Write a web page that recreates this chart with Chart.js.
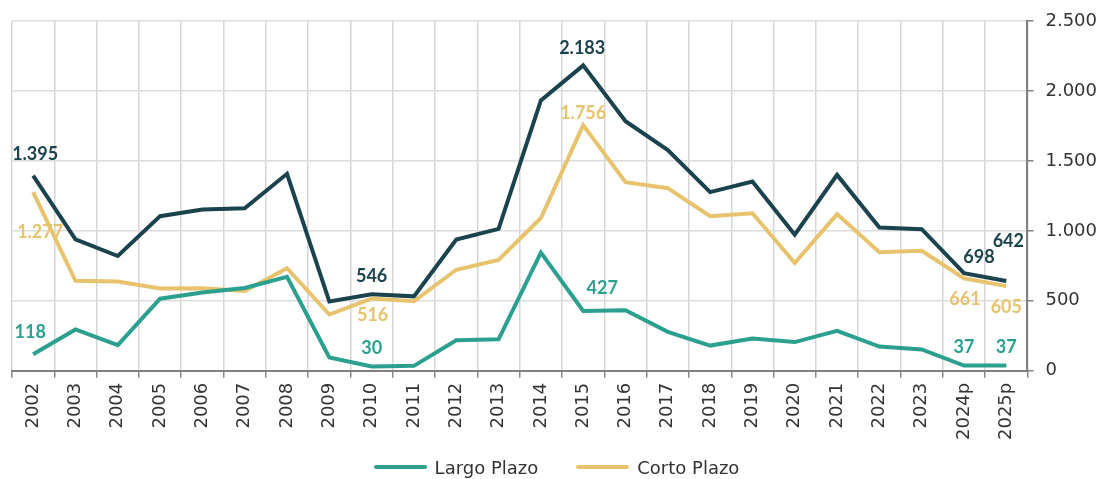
<!DOCTYPE html>
<html>
<head>
<meta charset="utf-8">
<script src="https://cdn.jsdelivr.net/npm/chart.js@4.4.1/dist/chart.umd.min.js"></script>
<style>
html,body{margin:0;padding:0;background:#fff;}
#wrap{width:1113px;height:479px;position:relative;}
#legend{position:absolute;left:0;right:0;top:455px;height:24px;display:flex;justify-content:center;align-items:center;font:18px 'DejaVu Sans';color:#333;}
#legend .item{display:flex;align-items:center;margin:0 19px;}
#legend .sw{width:53px;height:4px;border-radius:2px;margin-right:8px;}
</style>
</head>
<body>
<div id="wrap"><canvas id="chart"></canvas><div id="legend"></div></div>
<script>
// datos
const years=['2002','2003','2004','2005','2006','2007','2008','2009','2010','2011','2012','2013','2014','2015','2016','2017','2018','2019','2020','2021','2022','2023','2024p','2025p'];
const largoPlazo=[118,295,183,515,560,592,672,95,30,35,218,225,845,427,432,278,180,230,205,285,173,152,37,37];
const cortoPlazo=[1277,643,638,588,590,570,733,402,516,497,722,792,1092,1756,1348,1305,1105,1126,770,1120,848,858,661,605];
const total=[1395,940,820,1105,1152,1162,1408,495,546,532,938,1014,1932,2183,1784,1578,1277,1352,972,1400,1024,1012,698,642];
const yTicks=[0,500,1000,1500,2000,2500];

const COLORS={largo:'#2ba08f',corto:'#e7c36d',total:'#1b434d'};
// etiquetas: indice del punto y desplazamiento en px
const LABELS={
  total:[[0,2,-21],[8,0,-18],[13,-1,-17],[22,15,-16],[23,2,-40]],
  corto:[[0,7,40],[8,1,17],[13,0,-12],[22,1,21],[23,0,21]],
  largo:[[0,-3,-22],[8,0,-18],[13,19,-23],[22,0,-18],[23,0,-18]]
};
const fmt=v=>String(v).replace(/\B(?=(\d{3})+(?!\d))/g,'.');

const labelPlugin={
  id:'pointLabels',
  afterDatasetsDraw(chart){
    const ctx=chart.ctx;
    chart.data.datasets.forEach((ds,i)=>{
      const meta=chart.getDatasetMeta(i);
      (LABELS[ds.key]||[]).forEach(([idx,dx,dy])=>{
        const pt=meta.data[idx];
        ctx.save();
        ctx.font='bold 18px Lato';
        ctx.fillStyle=ds.borderColor;
        ctx.textAlign='center';ctx.textBaseline='middle';
        ctx.fillText(fmt(ds.data[idx]),pt.x+dx,pt.y+dy);
        ctx.restore();
      });
    });
  }
};

const mk=(key,label,data)=>({key,label,data,borderColor:COLORS[key],backgroundColor:COLORS[key],borderWidth:4,pointRadius:0,pointHoverRadius:0,tension:0,fill:false});
const datasets=[mk('largo','Largo Plazo',largoPlazo),mk('corto','Corto Plazo',cortoPlazo),mk('total','Total',total)];

// leyenda en html (sin la serie total)
document.getElementById('legend').innerHTML=datasets.filter(d=>d.key!=='total')
  .map(d=>`<span class="item"><span class="sw" style="background:${d.borderColor}"></span>${d.label}</span>`).join('');

new Chart(document.getElementById('chart'),{
  type:'line',
  data:{labels:years,datasets},
  options:{
    responsive:true,maintainAspectRatio:false,animation:false,
    layout:{padding:{left:12,right:4,top:3,bottom:34}},
    plugins:{tooltip:{enabled:false},legend:{display:false}},
    scales:{
      x:{offset:true,
        grid:{offset:true,color:'#d6d6d6',lineWidth:1.5,tickLength:7,tickColor:'#888'},
        border:{color:'#808080',width:2},
        ticks:{minRotation:90,maxRotation:90,padding:5,color:'#333',font:{family:'DejaVu Sans',size:18}}},
      y:{position:'right',min:0,max:2500,
        afterBuildTicks(axis){axis.ticks=yTicks.map(v=>({value:v}));},
        grid:{color:'#dcdcdc',lineWidth:1.5,tickLength:6,tickColor:'#808080'},
        border:{color:'#808080',width:2},
        ticks:{padding:12,color:'#333',font:{family:'DejaVu Sans',size:18,lineHeight:1},callback:v=>fmt(v)}}
    }
  },
  plugins:[labelPlugin]
});
</script>
</body>
</html>
